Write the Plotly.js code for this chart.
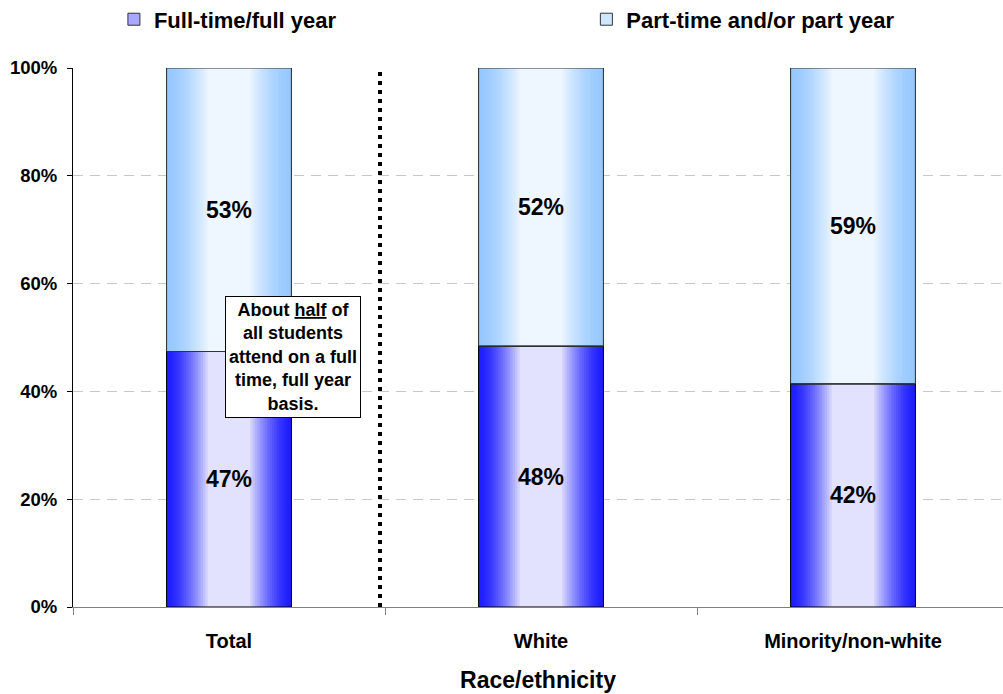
<!DOCTYPE html>
<html>
<head>
<meta charset="utf-8">
<script src="https://cdn.plot.ly/plotly-3.0.1.min.js"></script>
<style>html,body{margin:0;padding:0;background:#fff;}#chart{width:1003px;height:694px;}</style>
</head>
<body>
<div id="chart"></div>
<script>
// ---- data ----
var categories = ['Total', 'White', 'Minority/non-white'];
var fullTime = [47.4, 48.4, 41.4];
var partTime = [52.6, 51.6, 58.6];
var fullLabels = ['47%', '48%', '42%'];
var partLabels = ['53%', '52%', '59%'];
var seriesNames = ['Full-time/full year', 'Part-time and/or part year'];
var yTicks = [0, 20, 40, 60, 80, 100];
var yTickLabels = ['0%', '20%', '40%', '60%', '80%', '100%'];

// ---- styling helpers ----
var FONT = 'Liberation Sans, Arial, sans-serif';
var BARW = 0.4;
var NLAYERS = 18;
function hex(c){return [parseInt(c.substr(1,2),16),parseInt(c.substr(3,2),16),parseInt(c.substr(5,2),16)];}
function mix(a,b,t){var A=hex(a),B=hex(b);return 'rgb('+A.map(function(v,i){return Math.round(v+(B[i]-v)*t);}).join(',')+')';}

var traces = [];
function addSegment(vals, bases, edge, center, legendColor, name, legendId){
  // legend holder (hidden underneath layers)
  traces.push({type:'bar', x:categories, y:vals, base:bases, width:BARW, name:name, legend:legendId,
    marker:{color:legendColor, line:{color:'#333', width:1}}, hoverinfo:'skip', showlegend:true});
  for (var k=0;k<NLAYERS;k++){
    var t = k/(NLAYERS-1);
    var w = BARW*(1 - (k/NLAYERS)*0.7);
    traces.push({type:'bar', x:categories, y:vals, base:bases, width:w, legend:legendId,
      marker:{color:mix(edge,center,Math.pow(t,1.5)), line:{width:0}}, hoverinfo:'skip', showlegend:false});
  }
}
addSegment(fullTime, categories.map(function(){return 0;}), '#1e1eff', '#e2e2ff', '#a8a8ff', seriesNames[0], 'legend');
addSegment(partTime, fullTime, '#96c8ff', '#eef6ff', '#cfe6ff', seriesNames[1], 'legend2');
// outlines + value labels
traces.push({type:'bar', x:categories, y:fullTime, base:categories.map(function(){return 0;}), width:BARW,
  text:fullLabels, textposition:'inside', insidetextanchor:'middle', textangle:0,
  textfont:{family:FONT, size:23, color:'#000', weight:'bold'},
  marker:{color:'rgba(0,0,0,0)', line:{color:'#000', width:1}}, showlegend:false, hoverinfo:'skip'});
traces.push({type:'bar', x:categories, y:partTime, base:fullTime, width:BARW,
  text:partLabels, textposition:'inside', insidetextanchor:'middle', textangle:0,
  textfont:{family:FONT, size:23, color:'#000', weight:'bold'},
  marker:{color:'rgba(0,0,0,0)', line:{color:'#333', width:1}}, showlegend:false, hoverinfo:'skip'});

var legendFont = {family:FONT, size:22, weight:'bold', color:'#000'};
var layout = {
  width:1003, height:694,
  margin:{l:73, r:0, t:68, b:87},
  paper_bgcolor:'#fff', plot_bgcolor:'#fff',
  barmode:'overlay',
  font:{family:FONT, color:'#000'},
  showlegend:true,
  legend:{orientation:'h', x:0.044, xanchor:'left', yref:'container', y:0.972, yanchor:'middle',
    font:legendFont, bgcolor:'rgba(0,0,0,0)'},
  legend2:{orientation:'h', x:0.552, xanchor:'left', yref:'container', y:0.972, yanchor:'middle',
    font:legendFont, bgcolor:'rgba(0,0,0,0)'},
  xaxis:{type:'category', range:[-0.5, -0.5+930/312], showline:true, linecolor:'#808080', linewidth:1,
    ticks:'outside', tickson:'boundaries', ticklen:7, tickcolor:'#808080',
    showgrid:false, zeroline:false, ticklabelstandoff:16,
    tickfont:{family:FONT, size:20, weight:'bold'},
    title:{text:'Race/ethnicity', font:{family:FONT, size:23, weight:'bold'}, standoff:20}},
  yaxis:{range:[0,100], tickvals:yTicks, ticktext:yTickLabels, showline:true, linecolor:'#000', linewidth:1,
    ticks:'outside', ticklen:5, tickcolor:'#000', ticklabelstandoff:6,
    showgrid:true, gridcolor:'#c8c8c8', griddash:'10px,7px', gridwidth:1, zeroline:false,
    tickfont:{family:FONT, size:18.5, weight:'bold'}},
  shapes:[{type:'line', xref:'x', yref:'y', x0:0.484, x1:0.484, y0:0, y1:101.1,
    line:{color:'#000', width:4, dash:'4px,5px'}}],
  annotations:[{xref:'x', yref:'y', x:0.205, y:46.4, xanchor:'center', yanchor:'middle', showarrow:false,
    text:'About <span style="text-decoration:underline">half</span> of<br>all students<br>attend on a full<br>time, full year<br>basis.',
    font:{family:FONT, size:18, weight:'bold', color:'#000'}, align:'center',
    bgcolor:'#fff', bordercolor:'#000', borderwidth:1, borderpad:3}]
};
Plotly.newPlot('chart', traces, layout, {displayModeBar:false, staticPlot:true});
</script>
</body>
</html>
